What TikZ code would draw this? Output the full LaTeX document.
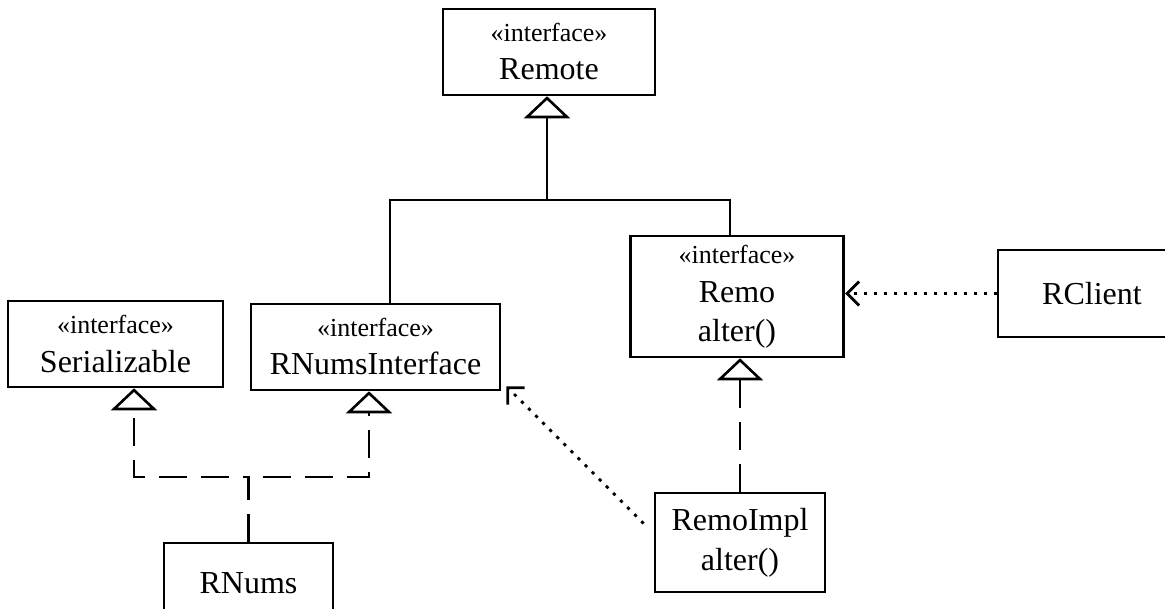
\documentclass[tikz,border=0pt]{standalone}
\usepackage{fontspec}
\setmainfont{Liberation Serif}
\usetikzlibrary{arrows.meta}
\newcommand{\stereo}[1]{{\fontsize{13}{15}\selectfont«#1»}}

\begin{document}
\begin{tikzpicture}[x=0.5pt,y=-0.5pt,
		box/.style={draw, line width=1.3pt, inner sep=0pt, align=center, font=\fontsize{16}{18}\selectfont},
		gen/.style={line width=1.3pt, -{Triangle[open,length=11pt,width=23pt]}},
		real/.style={gen, dash pattern=on 14pt off 7pt},
		dep/.style={line width=1.4pt, dash pattern=on 1.6pt off 3.4pt, -{Straight Barb[length=6pt,width=12pt]}}]
			\useasboundingbox (0,0) rectangle (1165,609);
			% classes
			\node[box, minimum width=106pt, minimum height=43pt] (remote) at (549,52) {\stereo{interface}\\[1pt]Remote};
			\node[box, minimum width=107.5pt, minimum height=43pt] (ser) at (115.5,344) {\stereo{interface}\\[1pt]Serializable};
			\node[box, minimum width=124.5pt, minimum height=43pt] (rni) at (375.5,347) {\stereo{interface}\\[1pt]RNumsInterface};
			\node[box, minimum width=106.75pt, minimum height=60.5pt] (remo) at (737,296.5) {\stereo{interface}\\[1.5pt]Remo\\[1.5pt]alter()};
			\node[box, minimum width=94pt, minimum height=43.5pt] (rclient) at (1092,293.5) {RClient};
			\node[box, minimum width=84.5pt, minimum height=40pt] (rnums) at (248.5,583) {RNums};
			\node[box, minimum width=85pt, minimum height=49.5pt] (remoimpl) at (740,542.5) {RemoImpl\\[2pt]alter()};
			% generalization
			\coordinate (fork) at (547,200);
			\coordinate (forkl) at (390,200);
			\coordinate (forkr) at (730,200);
			\draw[gen] (fork) -- (fork |- remote.south);
			\draw[line width=1.3pt] (rni.north -| forkl) -- (forkl) -- (forkr) -- (remo.north -| forkr);
			% realization
			\coordinate (jl) at (134,477);
			\coordinate (jr) at (369,477);
			\draw[real] (rnums.north) -- (rnums.north |- jl) -- (jl) -- (jl |- ser.south);
			\draw[real, dash phase=14pt] (rnums.north |- jl) -- (jr) -- (jr |- rni.south);
			\draw[real] (remoimpl.north) -- (remoimpl.north |- remo.south);
			% dependencies
			\draw[dep] (rclient.west) -- (rclient.west -| remo.east);
			\draw[dep] ([shift={(-10,-19)}]remoimpl.west) -- ([shift={(5,-5)}]rni.south east);
		\end{tikzpicture}
\end{document}
